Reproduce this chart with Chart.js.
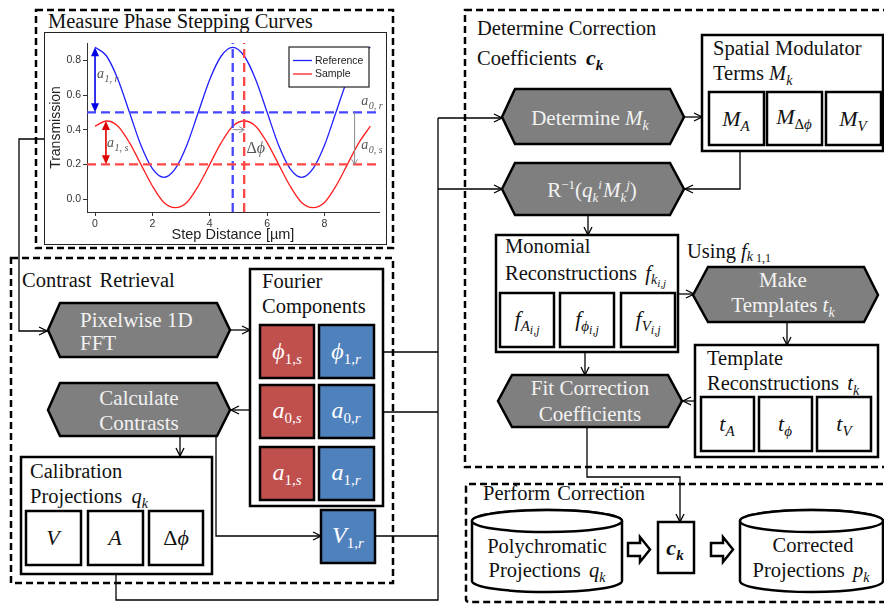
<!DOCTYPE html>
<html>
<head>
<meta charset="utf-8">
<script src="https://cdn.jsdelivr.net/npm/chart.js@4/dist/chart.umd.min.js"></script>
<style>
  html, body { margin: 0; padding: 0; background: #fff; }
  body { width: 884px; height: 604px; position: relative; overflow: hidden; }
  #diagram { position: absolute; left: 0; top: 0; }
  #plotFrame { position: absolute; left: 44px; top: 32px; width: 341px; height: 211px;
               border: 1px solid #222; background: #fff; }
  #plot { display: block; }
  svg text { font-family: 'Liberation Serif', 'Times New Roman', serif; font-size: 20.5px; fill: #111; }
  text.hx { fill: #f2f2f2; font-size: 21px; }
  .mi { font-style: italic; }
</style>
</head>
<body>
<svg id="diagram" width="884" height="604" viewBox="0 0 884 604" font-family="Liberation Serif, serif">
  <defs>
    <marker id="arw" markerWidth="10" markerHeight="10" refX="9" refY="5" orient="auto" markerUnits="userSpaceOnUse">
      <path d="M1,1 L9,5 L1,9" fill="none" stroke="#000" stroke-width="1.3"/>
    </marker>
  </defs>

  <!-- stage outlines -->
  <g fill="none" stroke="#000" stroke-width="2.5" stroke-dasharray="7 4">
    <rect x="36" y="10" width="357" height="238"/>
    <rect x="11" y="258" width="382" height="325"/>
    <rect x="465" y="10" width="440" height="457"/>
    <rect x="466" y="484" width="440" height="118" rx="3"/>
  </g>

  <!-- connectors -->
  <g fill="none" stroke="#000" stroke-width="1.3">
    <polyline points="45,139 19,139 19,331 47,331" marker-end="url(#arw)"/>
    <line x1="230" y1="330" x2="250" y2="330" marker-end="url(#arw)"/>
    <line x1="250" y1="410" x2="231" y2="410" marker-end="url(#arw)"/>
    <line x1="180" y1="436" x2="180" y2="456" marker-end="url(#arw)"/>
    <polyline points="216,436 216,536 321,536" marker-end="url(#arw)"/>
    <line x1="374" y1="352" x2="438" y2="352"/>
    <line x1="374" y1="412" x2="438" y2="412"/>
    <line x1="375" y1="536" x2="438" y2="536"/>
    <polyline points="116,574 116,600 438,600 438,118"/>
    <line x1="438" y1="118" x2="502" y2="118" marker-end="url(#arw)"/>
    <line x1="438" y1="189" x2="502" y2="189" marker-end="url(#arw)"/>
    <line x1="684" y1="117" x2="702" y2="117" marker-end="url(#arw)"/>
    <polyline points="740,146 740,189 685,189" marker-end="url(#arw)"/>
    <line x1="588" y1="215" x2="588" y2="235" marker-end="url(#arw)"/>
    <line x1="678" y1="294" x2="694" y2="294" marker-end="url(#arw)"/>
    <line x1="787" y1="322" x2="787" y2="345" marker-end="url(#arw)"/>
    <line x1="585" y1="352" x2="585" y2="375" marker-end="url(#arw)"/>
    <line x1="695" y1="401" x2="683" y2="401" marker-end="url(#arw)"/>
    <polyline points="587,427 587,477 680,477 680,522" marker-end="url(#arw)"/>
  </g>

  <!-- process steps -->
  <g fill="#7f7f7f" stroke="#000" stroke-width="2.5" stroke-linejoin="miter">
    <polygon points="48,330 60,303 217,303 230,330 217,357 60,357"/>
    <polygon points="48,410 60,383 217,383 230,410 217,436 60,436"/>
    <polygon points="502,117 515,89 670,89 684,117 670,144 515,144"/>
    <polygon points="502,189 515,163 670,163 684,189 670,215 515,215"/>
    <polygon points="693,295 708,267 864,267 878,295 864,322 708,322"/>
    <polygon points="498,401 512,375 668,375 682,401 668,427 512,427"/>
  </g>

  <!-- containers -->
  <g fill="#fff" stroke="#000" stroke-width="2.5">
    <rect x="250" y="269" width="133" height="237"/>
    <rect x="21" y="457" width="191" height="117"/>
    <rect x="702" y="35" width="181" height="116"/>
    <rect x="496" y="235" width="182" height="117"/>
    <rect x="695" y="345" width="183" height="112"/>
    <rect x="658" y="522" width="36" height="51"/>
    <!-- projections q_k -->
    <rect x="26" y="511" width="55" height="54"/>
    <rect x="88" y="511" width="55" height="54"/>
    <rect x="149" y="511" width="54" height="54"/>
    <!-- M_k -->
    <rect x="709" y="92" width="55" height="53"/>
    <rect x="767" y="92" width="55" height="53"/>
    <rect x="826" y="92" width="55" height="53"/>
    <!-- f_k -->
    <rect x="500" y="293" width="54" height="54"/>
    <rect x="560" y="293" width="54" height="54"/>
    <rect x="621" y="293" width="54" height="54"/>
    <!-- t_k -->
    <rect x="701" y="397" width="53" height="54"/>
    <rect x="759" y="397" width="53" height="54"/>
    <rect x="817" y="397" width="54" height="54"/>
    <!-- databases -->
    <path d="M472,521 A75,11 0 0 1 622,521 L622,581 A75,11 0 0 1 472,581 Z"/>
    <ellipse cx="547" cy="521" rx="75" ry="11"/>
    <path d="M740,521 A71.5,11 0 0 1 883,521 L883,581 A71.5,11 0 0 1 740,581 Z"/>
    <ellipse cx="811.5" cy="521" rx="71.5" ry="11"/>
    <!-- hollow arrows -->
    <path d="M628,543 L640,543 L640,537 L650,549.5 L640,562 L640,556 L628,556 Z"/>
    <path d="M711,543 L723,543 L723,537 L733,549.5 L723,562 L723,556 L711,556 Z"/>
  </g>

  <!-- Fourier components -->
  <g stroke="#000" stroke-width="2.5">
    <rect x="260" y="325" width="54" height="53" fill="#c0504d"/>
    <rect x="319" y="325" width="55" height="53" fill="#4f81bd"/>
    <rect x="260" y="385" width="54" height="53" fill="#c0504d"/>
    <rect x="319" y="385" width="55" height="53" fill="#4f81bd"/>
    <rect x="260" y="447" width="54" height="53" fill="#c0504d"/>
    <rect x="319" y="447" width="55" height="53" fill="#4f81bd"/>
    <rect x="321" y="510" width="54" height="53" fill="#4f81bd"/>
  </g>

  <!-- labels -->
  <text x="48" y="28">Measure Phase Stepping Curves</text>
  <text x="22" y="287" word-spacing="3">Contrast Retrieval</text>
  <text class="hx" x="80" y="327">Pixelwise 1D</text>
  <text class="hx" x="80" y="350">FFT</text>
  <text class="hx" x="139" y="405" text-anchor="middle">Calculate</text>
  <text class="hx" x="139" y="430" text-anchor="middle">Contrasts</text>
  <text x="262" y="288">Fourier</text>
  <text x="262" y="313">Components</text>

  <g>
    <text x="287" y="359" text-anchor="middle" style="fill:#fff"><tspan class="mi" font-size="24">ϕ</tspan><tspan font-size="15" dy="5">1,</tspan><tspan class="mi" font-size="15">s</tspan></text>
    <text x="346" y="359" text-anchor="middle" style="fill:#fff"><tspan class="mi" font-size="24">ϕ</tspan><tspan font-size="15" dy="5">1,</tspan><tspan class="mi" font-size="15">r</tspan></text>
    <text x="287" y="418" text-anchor="middle" style="fill:#fff"><tspan class="mi" font-size="24">a</tspan><tspan font-size="15" dy="5">0,</tspan><tspan class="mi" font-size="15">s</tspan></text>
    <text x="346" y="418" text-anchor="middle" style="fill:#fff"><tspan class="mi" font-size="24">a</tspan><tspan font-size="15" dy="5">0,</tspan><tspan class="mi" font-size="15">r</tspan></text>
    <text x="287" y="480" text-anchor="middle" style="fill:#fff"><tspan class="mi" font-size="24">a</tspan><tspan font-size="15" dy="5">1,</tspan><tspan class="mi" font-size="15">s</tspan></text>
    <text x="346" y="480" text-anchor="middle" style="fill:#fff"><tspan class="mi" font-size="24">a</tspan><tspan font-size="15" dy="5">1,</tspan><tspan class="mi" font-size="15">r</tspan></text>
    <text x="348" y="543" text-anchor="middle" style="fill:#fff"><tspan class="mi" font-size="24">V</tspan><tspan font-size="15" dy="5">1,</tspan><tspan class="mi" font-size="15">r</tspan></text>
  </g>

  <text x="30" y="478">Calibration</text>
  <text x="30" y="503">Projections <tspan class="mi" dx="4">q</tspan><tspan class="mi" font-size="14" dy="5">k</tspan></text>
  <text x="53" y="545" text-anchor="middle" style="font-size:22px;font-style:italic">V</text>
  <text x="115" y="545" text-anchor="middle" style="font-size:22px;font-style:italic">A</text>
  <text x="176" y="545" text-anchor="middle" style="font-size:22px">Δ<tspan class="mi">ϕ</tspan></text>

  <text x="477" y="35">Determine Correction</text>
  <text x="477" y="65">Coefficients <tspan dx="4" font-weight="bold" font-style="italic" font-size="22">c</tspan><tspan font-weight="bold" font-style="italic" font-size="15" dy="5">k</tspan></text>
  <text class="hx" x="590" y="125" text-anchor="middle">Determine <tspan class="mi">M</tspan><tspan class="mi" font-size="14" dy="5">k</tspan></text>
  <text x="713" y="55">Spatial Modulator</text>
  <text x="713" y="80">Terms <tspan class="mi">M</tspan><tspan class="mi" font-size="14" dy="5">k</tspan></text>
  <text x="736" y="126" text-anchor="middle" style="font-size:22px"><tspan class="mi">M</tspan><tspan class="mi" font-size="15" dy="5">A</tspan></text>
  <text x="794" y="124" text-anchor="middle" style="font-size:22px"><tspan class="mi">M</tspan><tspan font-size="15" dy="5">Δ</tspan><tspan class="mi" font-size="15">ϕ</tspan></text>
  <text x="853" y="126" text-anchor="middle" style="font-size:22px"><tspan class="mi">M</tspan><tspan class="mi" font-size="15" dy="5">V</tspan></text>

  <text class="hx" x="592" y="197" text-anchor="middle">R<tspan font-size="13" dy="-8">−1</tspan><tspan dy="8">(</tspan><tspan class="mi">q</tspan><tspan class="mi" font-size="13" dy="5">k</tspan><tspan class="mi" font-size="13" dy="-13">i</tspan><tspan class="mi" dx="1" dy="8">M</tspan><tspan class="mi" font-size="13" dy="5">k</tspan><tspan class="mi" font-size="13" dy="-13">j</tspan><tspan dy="8">)</tspan></text>

  <text x="505" y="253">Monomial</text>
  <text x="505" y="280">Reconstructions <tspan class="mi" dx="3">f</tspan><tspan class="mi" font-size="14" dy="4">k</tspan><tspan class="mi" font-size="11" dy="3">i,j</tspan></text>
  <text x="687" y="258">Using <tspan class="mi">f</tspan><tspan class="mi" font-size="14" dy="3">k</tspan><tspan font-size="12" dy="1"> 1,1</tspan></text>
  <text class="hx" x="783" y="287" text-anchor="middle">Make</text>
  <text class="hx" x="783" y="312" text-anchor="middle">Templates <tspan class="mi">t</tspan><tspan class="mi" font-size="14" dy="5">k</tspan></text>

  <text x="527" y="326" text-anchor="middle" style="font-size:22px"><tspan class="mi">f</tspan><tspan class="mi" font-size="15" dy="5">A</tspan><tspan class="mi" font-size="12" dy="3">i,j</tspan></text>
  <text x="587" y="326" text-anchor="middle" style="font-size:22px"><tspan class="mi">f</tspan><tspan class="mi" font-size="15" dy="5">ϕ</tspan><tspan class="mi" font-size="12" dy="3">i,j</tspan></text>
  <text x="648" y="326" text-anchor="middle" style="font-size:22px"><tspan class="mi">f</tspan><tspan class="mi" font-size="15" dy="5">V</tspan><tspan class="mi" font-size="12" dy="3">i,j</tspan></text>

  <text x="707" y="365">Template</text>
  <text x="707" y="390">Reconstructions <tspan class="mi" dx="3">t</tspan><tspan class="mi" font-size="14" dy="5">k</tspan></text>
  <text x="727" y="431" text-anchor="middle" style="font-size:22px"><tspan class="mi">t</tspan><tspan class="mi" font-size="15" dy="5">A</tspan></text>
  <text x="785" y="431" text-anchor="middle" style="font-size:22px"><tspan class="mi">t</tspan><tspan class="mi" font-size="15" dy="5">ϕ</tspan></text>
  <text x="844" y="431" text-anchor="middle" style="font-size:22px"><tspan class="mi">t</tspan><tspan class="mi" font-size="15" dy="5">V</tspan></text>

  <text class="hx" x="590" y="395" text-anchor="middle">Fit Correction</text>
  <text class="hx" x="590" y="421" text-anchor="middle">Coefficients</text>

  <text x="483" y="500" word-spacing="2">Perform Correction</text>
  <text x="547" y="553" text-anchor="middle">Polychromatic</text>
  <text x="547" y="577" text-anchor="middle">Projections <tspan class="mi" dx="3">q</tspan><tspan class="mi" font-size="14" dy="5">k</tspan></text>
  <text x="675" y="555" text-anchor="middle" style="font-size:22px;font-weight:bold;font-style:italic">c<tspan font-size="15" dy="5">k</tspan></text>
  <text x="813" y="552" text-anchor="middle">Corrected</text>
  <text x="811" y="577" text-anchor="middle">Projections <tspan class="mi" dx="3">p</tspan><tspan class="mi" font-size="14" dy="5">k</tspan></text>
</svg>

<div id="plotFrame"><canvas id="plot" width="341" height="211"></canvas></div>

<script>
// Phase stepping curves sampled every 0.4 µm
const stepDistance = [0, 0.4, 0.8, 1.2, 1.6, 2.0, 2.4, 2.8, 3.2, 3.6, 4.0, 4.4, 4.8,
                      5.2, 5.6, 6.0, 6.4, 6.8, 7.2, 7.6, 8.0, 8.4, 8.8, 9.2, 9.6];
const referenceTransmission = [0.875, 0.825, 0.69, 0.5, 0.31, 0.175, 0.125, 0.175, 0.31, 0.5, 0.69, 0.825, 0.875,
                               0.825, 0.69, 0.5, 0.31, 0.175, 0.125, 0.175, 0.31, 0.5, 0.69, 0.825, 0.875];
const sampleTransmission = [0.42, 0.45, 0.42, 0.325, 0.2, 0.075, -0.02, -0.05, -0.02, 0.075, 0.2, 0.325, 0.42,
                            0.45, 0.42, 0.325, 0.2, 0.075, -0.02, -0.05, -0.02, 0.075, 0.2, 0.325, 0.42];
const seriesNames = ['Reference', 'Sample'];
const seriesColors = ['#1f1fff', '#ff1f1f'];

// mean levels a0 (reference, sample) and peak positions used for Δϕ
const meanLevels = [0.5, 0.2];
const peakPositions = [4.8, 5.2];
// amplitude a1 arrows: [x, top, bottom]
const amplitudeArrows = [[0.0, 0.875, 0.5], [0.38, 0.45, 0.2]];
// offset arrow between the two means, and the phase shift arrow height
const offsetArrowX = 9.05;
const phaseArrowY = 0.4;

const xTickValues = [0, 2, 4, 6, 8];
const yTickValues = [0, 0.2, 0.4, 0.6, 0.8];
const xRange = [-0.28, 9.9];
const yRange = [-0.075, 0.9];

const sansFont = 'Liberation Sans';

const curve = (ys) => stepDistance.map((x, i) => ({ x, y: ys[i] }));
const hLine = (v) => [{ x: xRange[0], y: v }, { x: xRange[1], y: v }];
const vLine = (v) => [{ x: v, y: yRange[0] }, { x: v, y: yRange[1] }];

const dashed = (data, color) => ({
  data, borderColor: color, borderWidth: 2.3, borderDash: [9, 5],
  pointRadius: 0, fill: false, tension: 0
});

function arrowHead(ctx, x, y, dir, w, l, color, filled) {
  ctx.save();
  ctx.translate(x, y);
  ctx.rotate(dir);
  ctx.beginPath();
  ctx.moveTo(0, 0);
  ctx.lineTo(-l, -w / 2);
  if (filled) { ctx.lineTo(-l, w / 2); ctx.closePath(); ctx.fillStyle = color; ctx.fill(); }
  else { ctx.moveTo(0, 0); ctx.lineTo(-l, w / 2); ctx.strokeStyle = color; ctx.stroke(); }
  ctx.restore();
}

function mathLabel(ctx, x, y, base, sub, color, size) {
  ctx.save();
  ctx.fillStyle = color;
  ctx.textBaseline = 'alphabetic';
  ctx.font = 'italic ' + size + 'px "Liberation Serif", serif';
  ctx.fillText(base, x, y);
  const w = ctx.measureText(base).width;
  if (sub) {
    ctx.font = 'italic ' + Math.round(size * 0.68) + 'px "Liberation Serif", serif';
    ctx.fillText(sub, x + w + 0.5, y + size * 0.28);
  }
  ctx.restore();
}

const annotations = {
  id: 'annotations',
  afterDatasetsDraw(chart) {
    const { ctx, scales: { x, y } } = chart;
    ctx.save();
    // a1 amplitude arrows
    const arrowColors = ['#0000e6', '#e00000'];
    amplitudeArrows.forEach(([xv, top, bot], i) => {
      const px = x.getPixelForValue(xv), y1 = y.getPixelForValue(top), y2 = y.getPixelForValue(bot);
      ctx.strokeStyle = arrowColors[i];
      ctx.lineWidth = 1.6;
      ctx.beginPath(); ctx.moveTo(px, y1 + 7); ctx.lineTo(px, y2 - 7); ctx.stroke();
      arrowHead(ctx, px, y1, -Math.PI / 2, 8, 9, arrowColors[i], true);
      arrowHead(ctx, px, y2, Math.PI / 2, 8, 9, arrowColors[i], true);
    });
    // a0 offset arrow
    const ox = x.getPixelForValue(offsetArrowX);
    const oy1 = y.getPixelForValue(meanLevels[0]), oy2 = y.getPixelForValue(meanLevels[1]);
    ctx.strokeStyle = '#8a8a8a'; ctx.lineWidth = 1;
    ctx.beginPath(); ctx.moveTo(ox, oy1); ctx.lineTo(ox, oy2); ctx.stroke();
    arrowHead(ctx, ox, oy2, Math.PI / 2, 6, 5, '#8a8a8a', false);
    // Δϕ arrow
    const py = y.getPixelForValue(phaseArrowY);
    const px1 = x.getPixelForValue(peakPositions[0]), px2 = x.getPixelForValue(peakPositions[1]);
    ctx.beginPath(); ctx.moveTo(px1, py); ctx.lineTo(px2, py); ctx.stroke();
    arrowHead(ctx, px2, py, 0, 6, 5, '#8a8a8a', false);
    ctx.restore();

    // labels
    const lc = '#555';
    mathLabel(ctx, x.getPixelForValue(0.07), y.getPixelForValue(0.70), 'a', '1, r', lc, 14);
    mathLabel(ctx, x.getPixelForValue(0.42), y.getPixelForValue(0.30), 'a', '1, s', lc, 14);
    mathLabel(ctx, x.getPixelForValue(9.28), y.getPixelForValue(0.54), 'a', '0, r', lc, 14);
    mathLabel(ctx, x.getPixelForValue(9.28), y.getPixelForValue(0.29), 'a', '0, s', lc, 14);
    ctx.save();
    ctx.fillStyle = lc;
    ctx.font = '16px "Liberation Serif", serif';
    const dx = x.getPixelForValue(5.28), dy = y.getPixelForValue(0.265);
    ctx.fillText('Δ', dx, dy);
    const dw = ctx.measureText('Δ').width;
    ctx.font = 'italic 16px "Liberation Serif", serif';
    ctx.fillText('ϕ', dx + dw, dy);
    ctx.restore();
  },
  afterDraw(chart) {
    // legend box
    const { ctx, chartArea } = chart;
    const bx = chartArea.right - 90, by = chartArea.top + 4, bw = 80, bh = 40;
    ctx.save();
    ctx.fillStyle = '#fff';
    ctx.fillRect(bx, by, bw, bh);
    ctx.strokeStyle = '#222'; ctx.lineWidth = 1.2;
    ctx.strokeRect(bx, by, bw, bh);
    ctx.font = '10.5px "' + sansFont + '", sans-serif';
    ctx.textBaseline = 'middle';
    seriesNames.forEach((name, i) => {
      const ly = by + 13.5 + i * 13.5;
      ctx.strokeStyle = seriesColors[i]; ctx.lineWidth = 1.3;
      ctx.beginPath(); ctx.moveTo(bx + 4, ly); ctx.lineTo(bx + 23, ly); ctx.stroke();
      ctx.fillStyle = '#222';
      ctx.fillText(name, bx + 26, ly + 0.5);
    });
    ctx.restore();
  }
};

new Chart(document.getElementById('plot'), {
  type: 'line',
  data: {
    datasets: [
      dashed(hLine(meanLevels[0]), '#4646ff'),
      dashed(hLine(meanLevels[1]), '#ff4646'),
      dashed(vLine(peakPositions[0]), '#4646ff'),
      dashed(vLine(peakPositions[1]), '#ff4646'),
      { label: seriesNames[0], data: curve(referenceTransmission), borderColor: seriesColors[0],
        borderWidth: 1.3, pointRadius: 0, cubicInterpolationMode: 'monotone', fill: false },
      { label: seriesNames[1], data: curve(sampleTransmission), borderColor: seriesColors[1],
        borderWidth: 1.3, pointRadius: 0, cubicInterpolationMode: 'monotone', fill: false }
    ]
  },
  options: {
    responsive: false,
    animation: false,
    devicePixelRatio: 1,
    layout: { padding: { top: 10, right: 7, bottom: 0, left: 0 } },
    plugins: { legend: { display: false }, tooltip: { enabled: false } },
    scales: {
      x: {
        type: 'linear', min: xRange[0], max: xRange[1],
        afterBuildTicks: (s) => { s.ticks = xTickValues.map(v => ({ value: v })); },
        afterFit: (s) => { s.height = 32; },
        ticks: { color: '#333', font: { family: sansFont, size: 10.5 }, padding: 2,
                 maxRotation: 0, callback: (v) => String(v) },
        grid: { drawOnChartArea: false, drawTicks: true, tickLength: 4, color: '#333' },
        border: { color: '#333', width: 1 },
        title: { display: true, text: 'Step Distance [µm]', color: '#222',
                 font: { family: sansFont, size: 14.5 }, padding: { top: 0, bottom: 0 } }
      },
      y: {
        type: 'linear', min: yRange[0], max: yRange[1],
        afterBuildTicks: (s) => { s.ticks = yTickValues.map(v => ({ value: v })); },
        afterFit: (s) => { s.width = 42; },
        ticks: { color: '#333', font: { family: sansFont, size: 10.5 }, padding: 2,
                 callback: (v) => Number(v).toFixed(1) },
        grid: { drawOnChartArea: false, drawTicks: true, tickLength: 4, color: '#333' },
        border: { color: '#333', width: 1 },
        title: { display: true, text: 'Transmission', color: '#222',
                 font: { family: sansFont, size: 14 }, padding: { top: 3, bottom: 0 } }
      }
    }
  },
  plugins: [annotations]
});
</script>
</body>
</html>
